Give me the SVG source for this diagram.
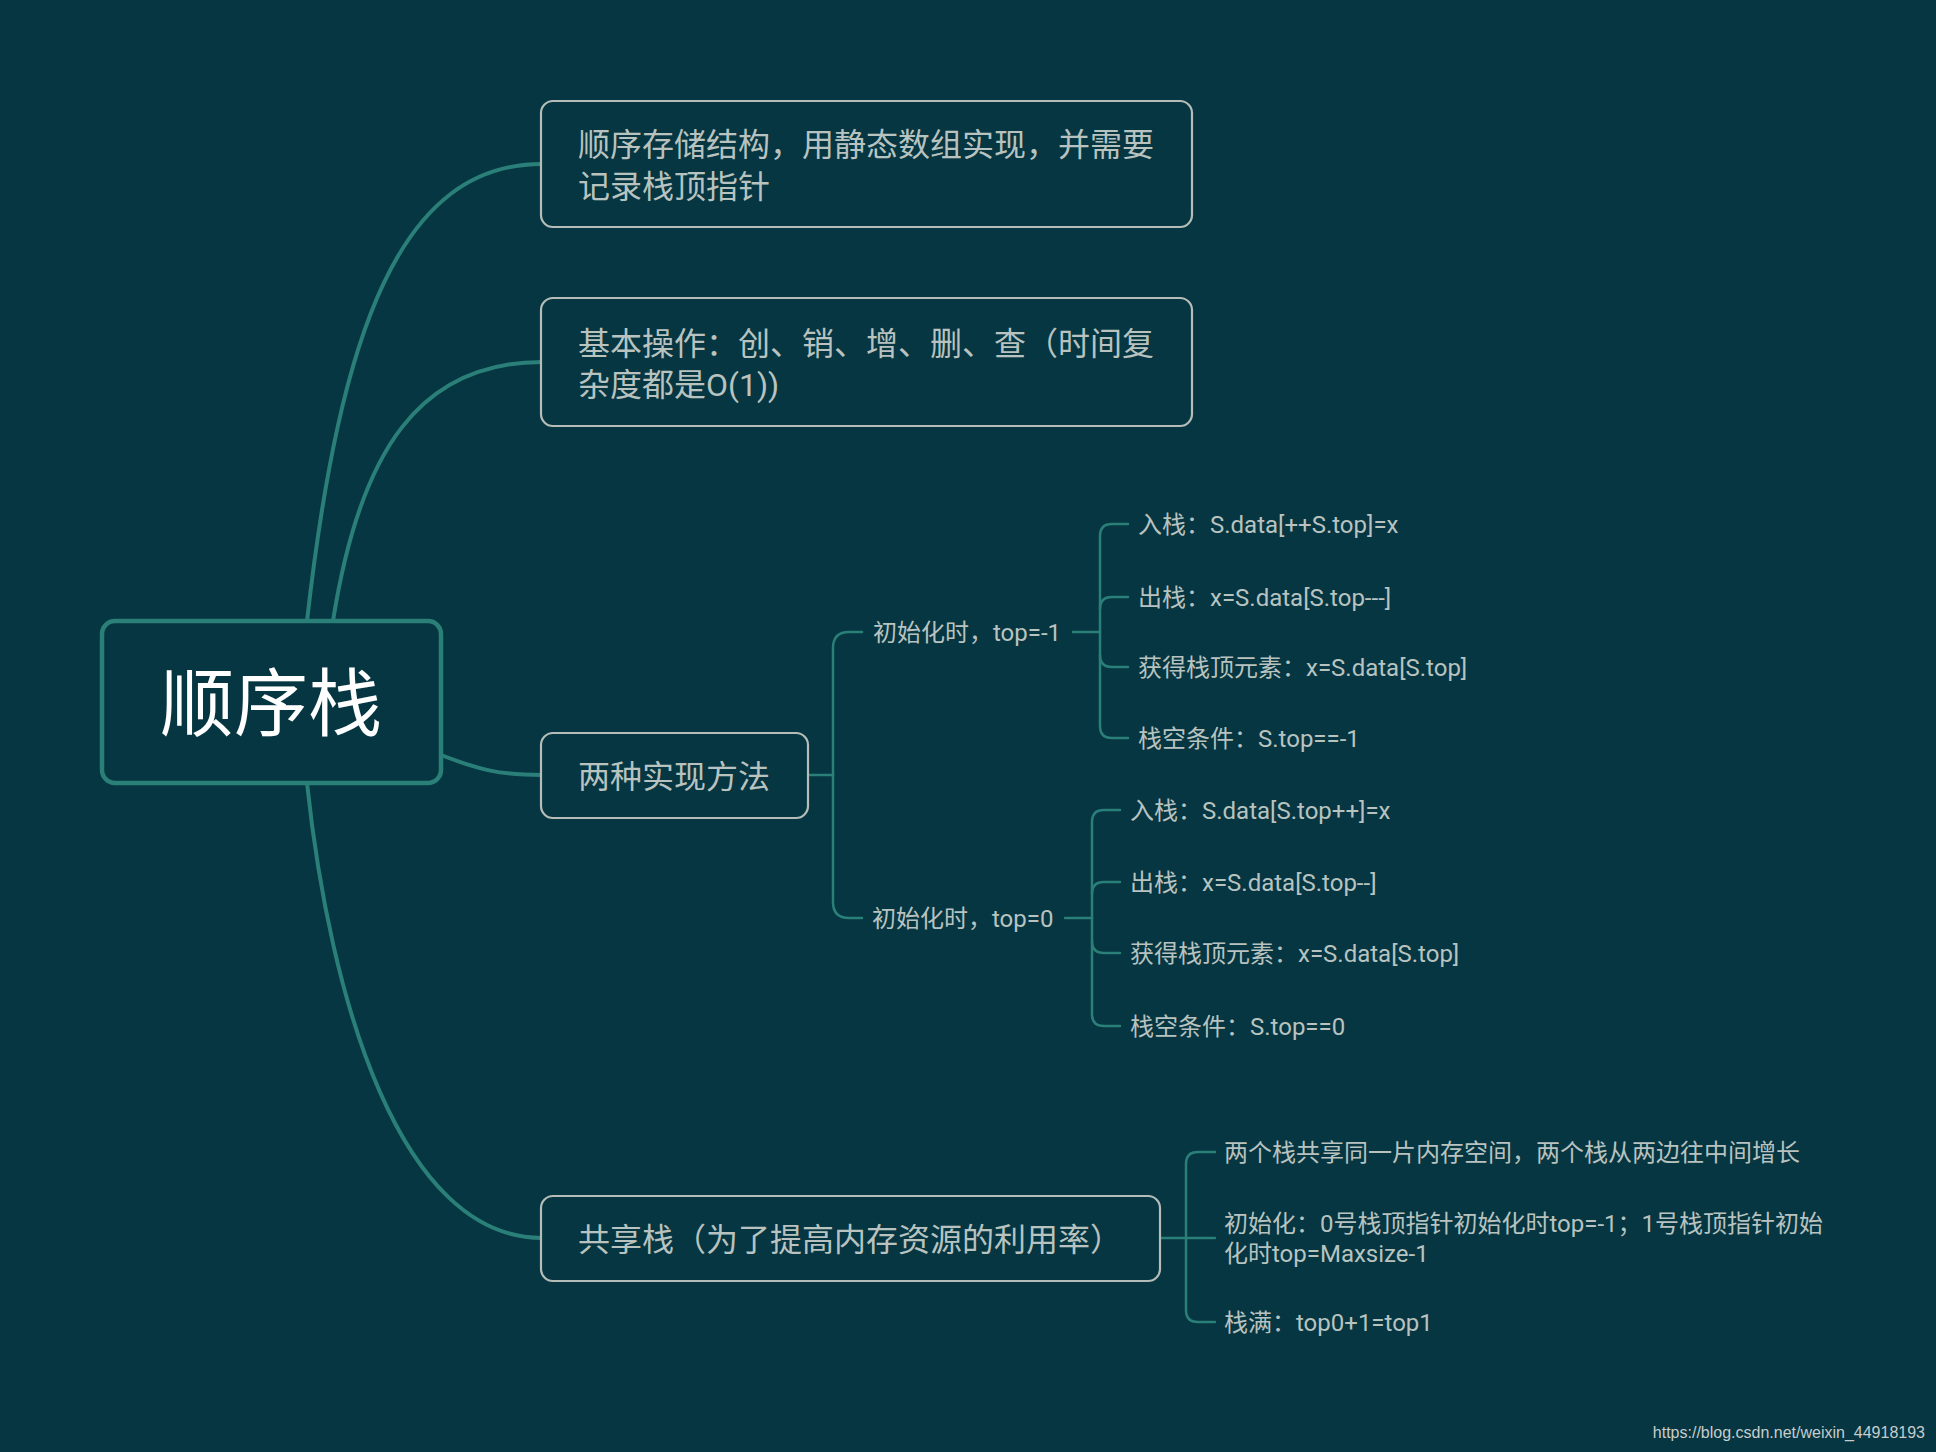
<svg xmlns="http://www.w3.org/2000/svg" width="1936" height="1452" viewBox="0 0 1936 1452">
<style>
.bg{fill:#063641}
.main{fill:none;stroke:#2a7f79;stroke-width:4;stroke-linecap:round}
.sub{fill:none;stroke:#2a7f79;stroke-width:2.5;stroke-linecap:round}
.box{fill:#063641;stroke:#b5bdb9;stroke-width:2.2}
.root{fill:#063641;stroke:#2a7f79;stroke-width:4.5}
.t{font-family:Roboto,"Noto Sans CJK SC",sans-serif;fill:#b8c3c0}
.t32{font-size:32px}
.t24{font-size:24px}
.rt{font-family:"Noto Sans CJK SC",sans-serif;font-size:74px;fill:#ffffff;text-anchor:middle}
.wm{font-family:"Liberation Sans",Arial,sans-serif;font-size:16px;fill:#c5cdcd;text-anchor:end}
</style>
<rect class="bg" x="0" y="0" width="1936" height="1452"/>
<g id="connectors">
<path class="main" d="M307,621 C340,330 400,164 542,164"/>
<path class="main" d="M333,621 C360,450 420,362 542,362"/>
<path class="main" d="M441,755 C480,770 500,775 542,775"/>
<path class="main" d="M307,783 C330,1000 400,1238 542,1238"/>
<path class="sub" d="M808,775 H833"/>
<path class="sub" d="M833,775 V648 Q833,632 849,632 H862"/>
<path class="sub" d="M833,775 V902 Q833,918 849,918 H862"/>
<path class="sub" d="M1073,632 H1100"/>
<path class="sub" d="M1100,632 V536 Q1100,524 1112,524 H1128"/>
<path class="sub" d="M1100,609 Q1100,597 1112,597 H1128"/>
<path class="sub" d="M1100,655 Q1100,667 1112,667 H1128"/>
<path class="sub" d="M1100,632 V726 Q1100,738 1112,738 H1128"/>
<path class="sub" d="M1065,918 H1092"/>
<path class="sub" d="M1092,918 V822 Q1092,810 1104,810 H1120"/>
<path class="sub" d="M1092,894 Q1092,882 1104,882 H1120"/>
<path class="sub" d="M1092,941 Q1092,953 1104,953 H1120"/>
<path class="sub" d="M1092,918 V1014 Q1092,1026 1104,1026 H1120"/>
<path class="sub" d="M1160,1238 H1215"/>
<path class="sub" d="M1186,1238 V1164 Q1186,1152 1198,1152 H1215"/>
<path class="sub" d="M1186,1238 V1310 Q1186,1322 1198,1322 H1215"/>
</g>
<g id="root">
<rect class="root" x="102" y="621" width="339" height="162" rx="13"/>
<text class="rt" x="271" y="730">顺序栈</text>
</g>
<g id="node-storage">
<rect class="box" x="541" y="101" width="651" height="126" rx="12"/>
<text class="t t32" x="578" y="156">顺序存储结构，用静态数组实现，并需要</text>
<text class="t t32" x="578" y="198">记录栈顶指针</text>
</g>
<g id="node-ops">
<rect class="box" x="541" y="298" width="651" height="128" rx="12"/>
<text class="t t32" x="578" y="355">基本操作：创、销、增、删、查（时间复</text>
<text class="t t32" x="578" y="396">杂度都是O(1))</text>
</g>
<g id="node-impl">
<rect class="box" x="541" y="733" width="267" height="85" rx="12"/>
<text class="t t32" x="578" y="788">两种实现方法</text>
</g>
<g id="node-init-m1">
<text class="t t24" x="873" y="641">初始化时，top=-1</text>
</g>
<g id="node-init-0">
<text class="t t24" x="872" y="927">初始化时，top=0</text>
</g>
<g id="node-m1-push"><text class="t t24" x="1138" y="533">入栈：S.data[++S.top]=x</text></g>
<g id="node-m1-pop"><text class="t t24" x="1138" y="606">出栈：x=S.data[S.top---]</text></g>
<g id="node-m1-get"><text class="t t24" x="1138" y="676">获得栈顶元素：x=S.data[S.top]</text></g>
<g id="node-m1-empty"><text class="t t24" x="1138" y="747">栈空条件：S.top==-1</text></g>
<g id="node-0-push"><text class="t t24" x="1130" y="819">入栈：S.data[S.top++]=x</text></g>
<g id="node-0-pop"><text class="t t24" x="1130" y="891">出栈：x=S.data[S.top--]</text></g>
<g id="node-0-get"><text class="t t24" x="1130" y="962">获得栈顶元素：x=S.data[S.top]</text></g>
<g id="node-0-empty"><text class="t t24" x="1130" y="1035">栈空条件：S.top==0</text></g>
<g id="node-shared">
<rect class="box" x="541" y="1196" width="619" height="85" rx="12"/>
<text class="t t32" x="578" y="1251">共享栈（为了提高内存资源的利用率）</text>
</g>
<g id="node-shared-1"><text class="t t24" x="1224" y="1161">两个栈共享同一片内存空间，两个栈从两边往中间增长</text></g>
<g id="node-shared-2">
<text class="t t24" x="1224" y="1232">初始化：0号栈顶指针初始化时top=-1；1号栈顶指针初始</text>
<text class="t t24" x="1224" y="1262">化时top=Maxsize-1</text>
</g>
<g id="node-shared-3"><text class="t t24" x="1224" y="1331">栈满：top0+1=top1</text></g>
<text class="wm" x="1925" y="1438">https://blog.csdn.net/weixin_44918193</text>
</svg>
